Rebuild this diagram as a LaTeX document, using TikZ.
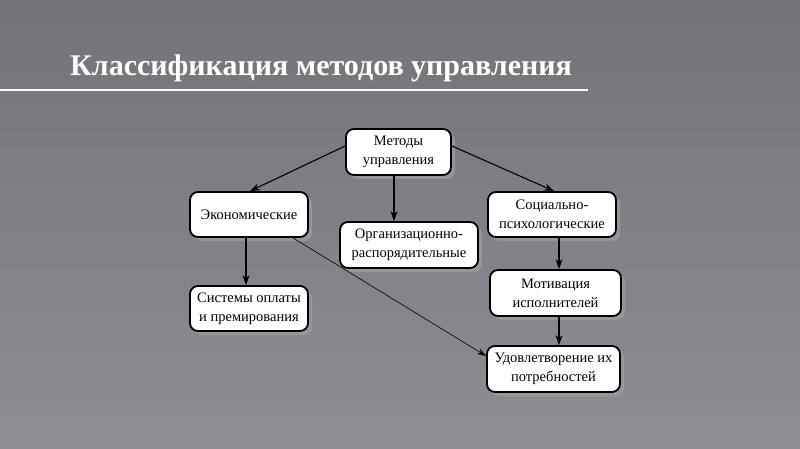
\documentclass[tikz,border=0pt]{standalone}
\usepackage{fontspec}
\setmainfont{Liberation Serif}
\usetikzlibrary{arrows.meta,shadows}
\definecolor{bgtop}{HTML}{737277}
\definecolor{bgbot}{HTML}{8D8F95}
\definecolor{shade}{HTML}{9C9B9E}
\tikzset{
  box/.style={draw=black, line width=1.8pt, fill=white, rounded corners=8pt,
    align=center, inner sep=1pt, font=\fontsize{14.5}{19}\selectfont,
    drop shadow={shadow xshift=4pt, shadow yshift=-4pt, fill=shade, opacity=0.8}},
  arr/.style={-{Stealth[length=10pt,width=7pt]}, line width=1.1pt},
  thinarr/.style={-{Stealth[length=9pt,width=6pt]}, line width=0.6pt},
}
\begin{document}
\begin{tikzpicture}[x=1pt,y=-1pt]
\shade[top color=bgtop, bottom color=bgbot] (0,0) rectangle (800,449);
\useasboundingbox (0,0) rectangle (800,449);
% title
\node[anchor=base west, text=white, inner sep=0pt, font=\fontsize{30}{33}\selectfont\bfseries] (title) at (70,76) {Классификация методов управления};
\draw[white, line width=2.5pt] (0,90) -- (588,90);
% boxes
\node[box, minimum width=105pt, minimum height=46pt] (m) at (398.5,152) {Методы\\управления};
\node[box, minimum width=118pt, minimum height=45pt] (e) at (249,214.5) {Экономические};
\node[box, minimum width=138pt, minimum height=46pt] (o) at (409,245) {Организационно-\\распорядительные};
\node[box, minimum width=128pt, minimum height=45pt] (s) at (552,214.5) {Социально-\\психологические};
\node[box, minimum width=131pt, minimum height=46pt] (mo) at (555.5,293) {Мотивация\\исполнителей};
\node[box, minimum width=133pt, minimum height=46pt] (u) at (553.5,369) {Удовлетворение их\\потребностей};
\node[box, minimum width=118pt, minimum height=45pt] (sy) at (249,308.5) {Системы оплаты\\и премирования};
% connectors
\draw[arr] (m.west |- 0,146) -- (e.north -| 250,0);
\draw[arr] (m.south -| 394,0) -- (o.north -| 394,0);
\draw[arr] (m.east |- 0,146) -- (s.north -| 554,0);
\draw[arr] (e.south -| 246,0) -- (sy.north -| 246,0);
\draw[thinarr] (e.south -| 293,0) -- (u.west |- 0,356);
\draw[arr] (s.south -| 559,0) -- (mo.north -| 559,0);
\draw[arr] (mo.south -| 559,0) -- (u.north -| 559,0);
\end{tikzpicture}
\end{document}
